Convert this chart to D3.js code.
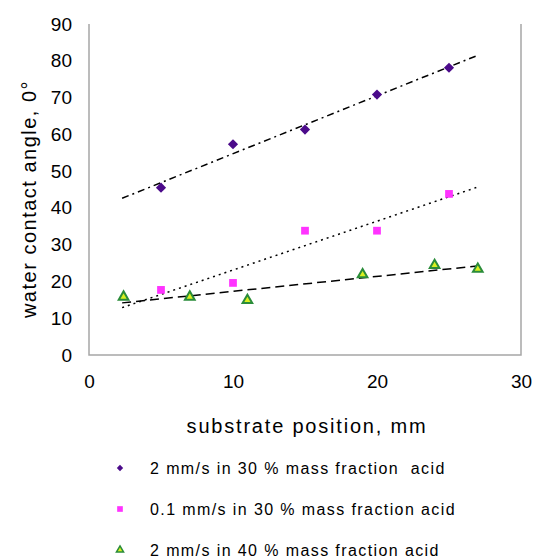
<!DOCTYPE html>
<meta charset="utf-8">
<style>
body { margin: 0; background: #fff; }
text { font-family: "Liberation Sans", Arial, sans-serif; fill: #000; }
</style>
<body>
<div id="chart"></div>
<script src="https://d3js.org/d3.v7.min.js"></script>
<script>
// values
var xTicks = [0, 10, 20, 30];
var yTicks = [0, 10, 20, 30, 40, 50, 60, 70, 80, 90];

var seriesNames = [
  "2 mm/s in 30 % mass fraction  acid",
  "0.1 mm/s in 30 % mass fraction acid",
  "2 mm/s in 40 % mass fraction acid"
];

var fastX = [5, 10, 15, 20, 25];
var fastY = [45.5, 57.3, 61.3, 70.8, 78.1];

var slowX = [5, 10, 15, 20, 25];
var slowY = [17.7, 19.6, 33.8, 33.8, 43.8];

var strongX = [2.4, 7, 11, 19, 24, 27];
var strongY = [15.8, 15.8, 14.9, 21.9, 24.4, 23.4];

// trendlines run over this x range
var trendRange = [2.3, 27.1];

var width = 536, height = 560;
var plotLeft = 89, plotRight = 521, plotTop = 24, plotBottom = 355;

var svg = d3.select("#chart").append("svg")
  .attr("width", width).attr("height", height);

var x = d3.scaleLinear().domain([0, 30]).range([plotLeft, plotRight]);
var y = d3.scaleLinear().domain([0, 90]).range([plotBottom, plotTop]);

// axes (no tick marks, just labels)
var gx = svg.append("g")
  .attr("transform", "translate(0," + plotBottom + ")")
  .call(d3.axisBottom(x).tickValues(xTicks).tickSize(0).tickPadding(20));
var gy = svg.append("g")
  .attr("transform", "translate(" + plotLeft + ",0)")
  .call(d3.axisLeft(y).tickValues(yTicks).tickSize(0).tickPadding(17));
gx.select(".domain").remove();
gy.select(".domain").remove();
svg.selectAll(".tick text")
  .style("font-family", "Liberation Sans, Arial, sans-serif")
  .style("font-size", "19px")
  .attr("fill", "#111");

// frame: left, bottom, right
svg.append("path")
  .attr("d", "M" + x(0) + "," + y(90) + "V" + y(0) + "H" + x(30) + "V" + y(90))
  .attr("fill", "none")
  .attr("stroke", "#a6a6a6")
  .attr("stroke-width", 1.5);

// axis titles
svg.append("text")
  .attr("x", (plotLeft + plotRight) / 2 + 2)
  .attr("y", 433)
  .attr("text-anchor", "middle")
  .style("font-size", "20px")
  .style("letter-spacing", "1.8px")
  .text("substrate position, mm");

svg.append("text")
  .attr("transform", "translate(36,199) rotate(-90)")
  .attr("text-anchor", "middle")
  .style("font-size", "20px")
  .style("letter-spacing", "1.5px")
  .text("water contact angle, 0°");

// least squares trendline
function trend(xs, ys) {
  var mx = d3.mean(xs), my = d3.mean(ys);
  var sxy = d3.sum(xs, function(v, i) { return (v - mx) * (ys[i] - my); });
  var sxx = d3.sum(xs, function(v) { return (v - mx) * (v - mx); });
  var b = sxy / sxx, a = my - b * mx;
  return trendRange.map(function(v) { return [v, a + b * v]; });
}

var line = d3.line()
  .x(function(d) { return x(d[0]); })
  .y(function(d) { return y(d[1]); });

var series = [
  { xs: fastX, ys: fastY, dash: "7,4,2,4", shape: "diamond", fill: "#4b0a8a", stroke: "#4b0a8a", size: 52, legSize: 20 },
  { xs: slowX, ys: slowY, dash: "2,4", shape: "square", fill: "#ff33ff", stroke: "#ff33ff", size: 60, legSize: 32 },
  { xs: strongX, ys: strongY, dash: "9,5", shape: "triangle", fill: "#d8f020", stroke: "#2a8c3a", size: 40, legSize: 22 }
];

function symbolPath(s, size) {
  var type = s.shape == "triangle" ? d3.symbolTriangle : d3.symbolSquare;
  return d3.symbol().type(type).size(size)();
}

series.forEach(function(s) {
  svg.append("path")
    .attr("d", line(trend(s.xs, s.ys)))
    .attr("fill", "none")
    .attr("stroke", "#000")
    .attr("stroke-width", 1.5)
    .attr("stroke-dasharray", s.dash);
});

series.forEach(function(s) {
  var pts = s.xs.map(function(v, i) { return [v, s.ys[i]]; });
  svg.append("g").selectAll("path")
    .data(pts)
    .enter()
    .append("path")
    .attr("d", symbolPath(s, s.size))
    .attr("transform", function(d) {
      return "translate(" + x(d[0]) + "," + y(d[1]) + ")" + (s.shape == "diamond" ? " rotate(45)" : "");
    })
    .attr("fill", s.fill)
    .attr("stroke", s.stroke)
    .attr("stroke-width", s.shape == "triangle" ? 2 : 0);
});

// legend
var legend = svg.append("g");
var legY = [468, 509, 550];
series.forEach(function(s, i) {
  legend.append("path")
    .attr("d", symbolPath(s, s.legSize))
    .attr("transform", "translate(120," + legY[i] + ")" + (s.shape == "diamond" ? " rotate(45)" : ""))
    .attr("fill", s.fill)
    .attr("stroke", s.stroke)
    .attr("stroke-width", s.shape == "triangle" ? 1.5 : 0);
  legend.append("text")
    .attr("x", 150)
    .attr("y", legY[i] + 6)
    .style("font-size", "16px")
    .style("letter-spacing", "1.4px")
    .style("white-space", "pre")
    .text(seriesNames[i]);
});
</script>
</body>
